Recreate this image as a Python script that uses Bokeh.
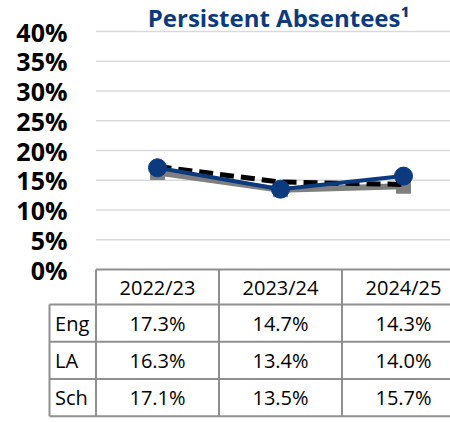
from bokeh.plotting import figure
from bokeh.models import Range1d
from bokeh.core.properties import value
from bokeh.embed import file_html
from bokeh.resources import INLINE

# ---- data ----
years = ["2022/23", "2023/24", "2024/25"]
series_names = ["Eng", "LA", "Sch"]
eng = [17.3, 14.7, 14.3]
la = [16.3, 13.4, 14.0]
sch = [17.1, 13.5, 15.7]
y_ticks = [0, 5, 10, 15, 20, 25, 30, 35, 40]
y_tick_labels = ["0%", "5%", "10%", "15%", "20%", "25%", "30%", "35%", "40%"]
title_text = "Persistent Absentees\u00b9"

NAVY = "#0b3a7e"
GRAY = "#7f7f7f"
BORDER = "#8f8f8f"
FONT = "Open Sans"

xs = list(range(len(years)))

p = figure(width=450, height=422, output_backend="svg", toolbar_location=None,
           x_range=Range1d(-1.2764, 2.3821), y_range=Range1d(-25.71, 45.21),
           min_border=0, min_border_left=0, min_border_right=0,
           min_border_top=0, min_border_bottom=0)
p.axis.visible = False
p.grid.visible = False
p.outline_line_color = None
p.background_fill_color = "white"
p.border_fill_color = "white"

# gridlines
left_edge = -0.5
right_edge = len(years) - 0.5
g = [t for t in y_ticks if t > 0]
p.segment(x0=[left_edge] * len(g), x1=[right_edge] * len(g), y0=g, y1=g,
          line_color="#d9d9d9", line_width=1.5)

# y tick labels
p.text(x=[-0.732] * len(y_ticks), y=y_ticks, text=y_tick_labels,
       text_font=value(FONT), text_font_style="bold", text_font_size="25px",
       text_align="right", text_baseline="middle", text_color="black")

# title
p.text(x=[0.985], y=[42.4], text=[title_text], text_font=value(FONT),
       text_font_style="bold", text_font_size="24px", text_color=NAVY,
       text_align="center", text_baseline="middle")

# series
p.line(xs, la, line_color=GRAY, line_width=6)
p.scatter(xs, la, marker="square", size=14, fill_color=GRAY, line_color=GRAY)
p.line(xs, eng, line_color="black", line_width=5, line_dash="14 7")
p.line(xs, sch, line_color=NAVY, line_width=4)
p.scatter(xs, sch, marker="circle", size=18, fill_color=NAVY, line_color=NAVY)

# table
head_h = 5.9
row_h = 6.25
label_left = -0.878
n_rows = len(series_names)
bottom = -(head_h + row_h * n_rows)
hx0, hx1, hy0, hy1 = [], [], [], []
hx0.append(left_edge); hx1.append(right_edge + 0.5); hy0.append(0); hy1.append(0)
for r in range(0, n_rows + 1):
    yy = -(head_h + row_h * r)
    hx0.append(label_left); hx1.append(right_edge + 0.5); hy0.append(yy); hy1.append(yy)
p.segment(x0=hx0, x1=hx1, y0=hy0, y1=hy1, line_color=BORDER, line_width=2)
vx = [label_left] + [i - 0.5 for i in range(len(years) + 1)]
vtop = [-head_h] + [0] * (len(years) + 1)
p.segment(x0=vx, x1=vx, y0=vtop, y1=[bottom] * len(vx), line_color=BORDER, line_width=2)

p.text(x=xs, y=[-head_h / 2] * len(years), text=years, text_font=value(FONT),
       text_font_size="20px", text_align="center", text_baseline="middle", text_color="black")
all_vals = [eng, la, sch]
for r, (name, vals) in enumerate(zip(series_names, all_vals)):
    yc = -(head_h + row_h * r + row_h / 2)
    p.text(x=[label_left + 0.045], y=[yc], text=[name], text_font=value(FONT),
           text_font_size="20px", text_align="left", text_baseline="middle", text_color="black")
    p.text(x=xs, y=[yc] * len(vals), text=[f"{v:.1f}%" for v in vals], text_font=value(FONT),
           text_font_size="20px", text_align="center", text_baseline="middle", text_color="black")

open("out.html", "w").write(file_html(p, INLINE))
